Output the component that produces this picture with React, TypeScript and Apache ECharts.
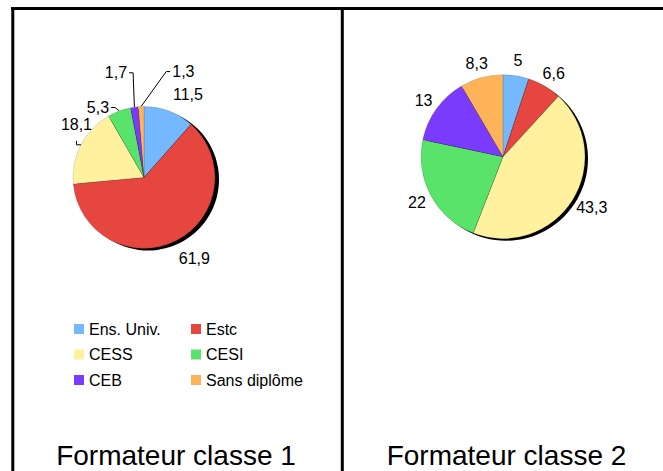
import React, { useEffect, useRef } from 'react';
import * as echarts from 'echarts';

// ---- data ----
const categories = ['Ens. Univ.', 'Estc', 'CESS', 'CESI', 'CEB', 'Sans diplôme'];
const sliceColors = ['#74B9FF', '#E5463F', '#FFF19E', '#59E36A', '#7B3BFD', '#FFB358'];
const class1Values = [11.5, 61.9, 18.1, 5.3, 1.7, 1.3];
const class2Values = [5, 6.6, 43.3, 22, 13, 8.3];
const panelTitles = ['Formateur classe 1', 'Formateur classe 2'];
const legendColumn1 = ['Ens. Univ.', 'CESS', 'CEB'];
const legendColumn2 = ['Estc', 'CESI', 'Sans diplôme'];

// manual label adjustments of the first pie (as in the original)
const class1LabelNudge = [[11, -3], [8, 4], [15.5, -13.7], [-15, 10.6], [-16, -19.5], [43, -20]];
const class1LeaderLine = [null, null, 'v', 'h', 'h', 'h'];

const LABEL_FONT = "'Liberation Sans Narrow', 'Liberation Sans', Arial, sans-serif";
const TITLE_FONT = "'Liberation Sans', Arial, sans-serif";

const fmt = (v: number) => String(v).replace('.', ',');

function makeLabelLayout(
  values: number[],
  cx: number,
  cy: number,
  r: number,
  gap: number,
  nudges: number[][] | null,
  lines: (string | null)[] | null
) {
  const total = values.reduce((a, b) => a + b, 0);
  const mids: number[] = [];
  let acc = 0;
  values.forEach((v) => {
    mids.push(((acc + v / 2) / total) * Math.PI * 2);
    acc += v;
  });
  return (params: any) => {
    const i = params.dataIndex;
    const t = mids[i];
    const dx = Math.sin(t);
    const dy = -Math.cos(t);
    const w = params.labelRect.width;
    const h = params.labelRect.height;
    let x = cx + dx * (r + gap) + (dx * w) / 2;
    let y = cy + dy * (r + gap) + (dy * h) / 2;
    if (nudges) {
      x += nudges[i][0];
      y += nudges[i][1];
    }
    const res: any = { x, y, align: 'center', verticalAlign: 'middle' };
    const mode = lines ? lines[i] : null;
    if (mode) {
      const ex = cx + dx * r;
      const ey = cy + dy * r;
      if (mode === 'h') {
        const side = ex > x ? 1 : -1;
        const sx = x + side * (w / 2 + 2);
        const ly = y;
        res.labelLinePoints = [
          [sx, ly],
          [sx + side * 4, ly],
          [ex, ey],
        ];
      } else {
        res.labelLinePoints = [
          [x, ey - 4],
          [x, ey],
          [ex, ey],
        ];
      }
    }
    return res;
  };
}

function buildData(values: number[], lines: (string | null)[] | null) {
  return values.map((v, i) => ({
    name: categories[i],
    value: v,
    itemStyle: { color: sliceColors[i] },
    labelLine: { show: !!(lines && lines[i]) },
  }));
}

const C1 = [144, 177.5];
const R1 = 71;
const C2 = [503, 156.7];
const R2 = 82;

export default function App() {
  const ref = useRef<HTMLDivElement>(null);
  useEffect(() => {
    if (!ref.current) return;
    const chart = echarts.init(ref.current, undefined, { renderer: 'svg' });
    const legendCommon = {
      orient: 'vertical',
      padding: 0,
      itemGap: 9.5,
      itemWidth: 10,
      itemHeight: 10,
      icon: 'rect',
      selectedMode: false,
      itemStyle: { borderWidth: 0 },
      textStyle: { fontSize: 16, fontFamily: LABEL_FONT, color: '#000' },
    };
    const pieCommon = {
      type: 'pie',
      startAngle: 90,
      clockwise: true,
      avoidLabelOverlap: false,
      z: 2,
      itemStyle: { borderColor: 'rgba(0,0,0,0.25)', borderWidth: 0.5 },
      labelLine: { show: true, length: 5, length2: 0, lineStyle: { color: '#000', width: 1 } },
      emphasis: { disabled: true },
    };
    chart.setOption({
      animation: false,
      legend: [
        { ...legendCommon, data: legendColumn1, left: 74, top: 321 },
        { ...legendCommon, data: legendColumn2, left: 191, top: 321 },
      ],
      graphic: [
        { type: 'line', shape: { x1: 11, y1: 8.5, x2: 663, y2: 8.5 }, style: { stroke: '#000', lineWidth: 3 } },
        { type: 'line', shape: { x1: 12.8, y1: 7, x2: 12.8, y2: 471 }, style: { stroke: '#000', lineWidth: 3 } },
        { type: 'line', shape: { x1: 342.3, y1: 7, x2: 342.3, y2: 471 }, style: { stroke: '#000', lineWidth: 3 } },
        {
          type: 'text',
          x: 176,
          y: 455,
          style: { text: panelTitles[0], align: 'center', verticalAlign: 'middle', fontSize: 28, fontFamily: TITLE_FONT, fill: '#000' },
        },
        {
          type: 'text',
          x: 506.5,
          y: 455,
          style: { text: panelTitles[1], align: 'center', verticalAlign: 'middle', fontSize: 28, fontFamily: TITLE_FONT, fill: '#000' },
        },
      ],
      series: [
        {
          type: 'pie',
          silent: true,
          z: 1,
          center: [C1[0] + 4, C1[1] + 2],
          radius: R1,
          data: [{ name: '_shadow1', value: 1, itemStyle: { color: '#000' } }],
          label: { show: false },
          labelLine: { show: false },
        },
        {
          type: 'pie',
          silent: true,
          z: 1,
          center: [C2[0] + 3, C2[1] + 2],
          radius: R2,
          data: [{ name: '_shadow2', value: 1, itemStyle: { color: '#000' } }],
          label: { show: false },
          labelLine: { show: false },
        },
        {
          ...pieCommon,
          name: panelTitles[0],
          center: C1,
          radius: R1,
          data: buildData(class1Values, class1LeaderLine),
          label: {
            show: true,
            position: 'outside',
            formatter: (p: any) => fmt(p.value),
            fontSize: 16,
            fontFamily: LABEL_FONT,
            color: '#000',
          },
          labelLayout: makeLabelLayout(class1Values, C1[0], C1[1], R1, 7, class1LabelNudge, class1LeaderLine),
        },
        {
          ...pieCommon,
          name: panelTitles[1],
          center: C2,
          radius: R2,
          data: buildData(class2Values, null),
          label: {
            show: true,
            position: 'outside',
            formatter: (p: any) => fmt(p.value),
            fontSize: 16,
            fontFamily: LABEL_FONT,
            color: '#000',
          },
          labelLayout: makeLabelLayout(class2Values, C2[0], C2[1], R2, 7, null, null),
        },
      ],
    });
    return () => chart.dispose();
  }, []);
  return (
    <div
      ref={ref}
      style={{ position: 'absolute', left: 0, top: 0, width: 663, height: 471, background: '#fff' }}
    />
  );
}
